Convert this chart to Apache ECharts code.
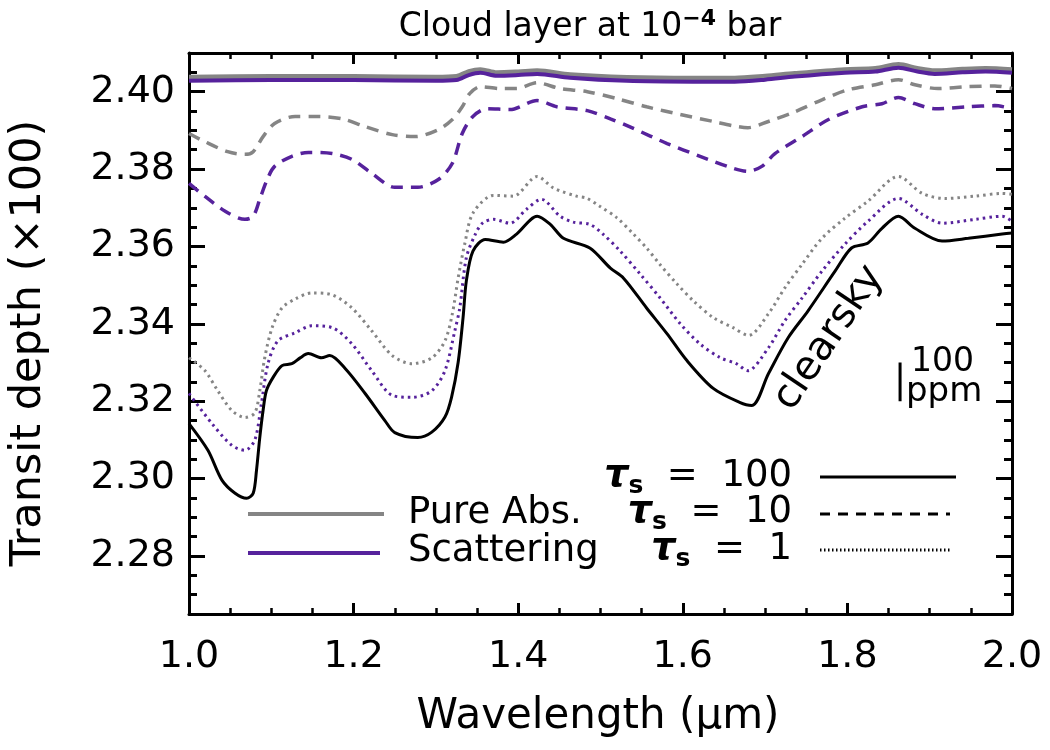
<!DOCTYPE html>
<html><head><meta charset="utf-8">
<script src="https://cdn.jsdelivr.net/npm/echarts@6/dist/echarts.min.js"></script>
<style>html,body{margin:0;padding:0;background:#fff}#c{width:1050px;height:750px}</style>
</head><body><div id="c"></div>
<script>
// ---- tick labels ----
const xTickLabels = [1.0, 1.2, 1.4, 1.6, 1.8, 2.0];
const yMajorTicks = [2.28, 2.30, 2.32, 2.34, 2.36, 2.38, 2.40];
const yMinorTicks = [2.265, 2.27, 2.275, 2.285, 2.29, 2.295, 2.305, 2.31, 2.315, 2.325, 2.33, 2.335,
  2.345, 2.35, 2.355, 2.365, 2.37, 2.375, 2.385, 2.39, 2.395, 2.405, 2.41];

// ---- series: [wavelength (um), transit depth (x100)] ----
const pureAbs100 = [[1.000,2.4037],[1.100,2.4039],[1.200,2.4039],[1.300,2.4037],[1.325,2.4039],[1.340,2.4052],[1.354,2.4057],[1.374,2.4049],[1.400,2.4051],[1.423,2.4054],[1.463,2.4044],[1.532,2.4037],[1.612,2.4035],[1.663,2.4035],[1.700,2.4040],[1.736,2.4047],[1.797,2.4057],[1.834,2.4060],[1.862,2.4070],[1.885,2.4060],[1.906,2.4054],[1.940,2.4058],[1.968,2.4060],[2.000,2.4057]];
const scatter100 = [[1.000,2.4028],[1.100,2.4030],[1.200,2.4030],[1.300,2.4028],[1.325,2.4030],[1.340,2.4043],[1.354,2.4049],[1.374,2.4041],[1.400,2.4043],[1.423,2.4046],[1.463,2.4036],[1.532,2.4028],[1.612,2.4026],[1.663,2.4026],[1.700,2.4031],[1.736,2.4039],[1.797,2.4049],[1.834,2.4052],[1.862,2.4062],[1.885,2.4052],[1.906,2.4046],[1.940,2.4050],[1.968,2.4052],[2.000,2.4049]];
const pureAbs10 = [[1.000,2.3892],[1.019,2.3871],[1.047,2.3845],[1.068,2.3838],[1.078,2.3845],[1.090,2.3884],[1.104,2.3918],[1.129,2.3936],[1.157,2.3936],[1.186,2.3930],[1.214,2.3910],[1.247,2.3889],[1.275,2.3884],[1.303,2.3902],[1.320,2.3928],[1.332,2.3961],[1.341,2.3995],[1.354,2.4013],[1.378,2.4008],[1.398,2.4008],[1.423,2.4023],[1.451,2.4008],[1.484,2.4000],[1.520,2.3982],[1.556,2.3961],[1.597,2.3941],[1.637,2.3923],[1.661,2.3912],[1.679,2.3907],[1.704,2.3923],[1.736,2.3948],[1.769,2.3979],[1.801,2.4005],[1.834,2.4018],[1.862,2.4031],[1.882,2.4018],[1.910,2.4008],[1.947,2.4013],[1.979,2.4015],[2.000,2.4008]];
const scatter10 = [[1.000,2.3763],[1.019,2.3730],[1.044,2.3691],[1.068,2.3670],[1.078,2.3678],[1.086,2.3722],[1.095,2.3773],[1.104,2.3807],[1.125,2.3833],[1.145,2.3843],[1.174,2.3840],[1.198,2.3825],[1.222,2.3789],[1.250,2.3753],[1.278,2.3753],[1.303,2.3773],[1.320,2.3815],[1.332,2.3892],[1.345,2.3936],[1.362,2.3956],[1.390,2.3954],[1.423,2.3977],[1.447,2.3961],[1.484,2.3951],[1.512,2.3930],[1.540,2.3905],[1.581,2.3866],[1.621,2.3833],[1.661,2.3802],[1.679,2.3794],[1.696,2.3807],[1.712,2.3840],[1.745,2.3884],[1.777,2.3928],[1.818,2.3961],[1.842,2.3969],[1.862,2.3985],[1.882,2.3969],[1.906,2.3956],[1.947,2.3961],[1.979,2.3964],[2.000,2.3956]];
const pureAbs1 = [[1.000,2.3312],[1.019,2.3280],[1.035,2.3227],[1.052,2.3176],[1.068,2.3158],[1.080,2.3170],[1.086,2.3227],[1.092,2.3312],[1.101,2.3390],[1.113,2.3441],[1.129,2.3464],[1.149,2.3480],[1.174,2.3475],[1.198,2.3441],[1.222,2.3382],[1.247,2.3318],[1.271,2.3297],[1.295,2.3312],[1.311,2.3356],[1.320,2.3426],[1.327,2.3518],[1.335,2.3606],[1.345,2.3686],[1.370,2.3732],[1.394,2.3730],[1.423,2.3781],[1.443,2.3751],[1.471,2.3730],[1.483,2.3725],[1.499,2.3704],[1.520,2.3674],[1.540,2.3632],[1.556,2.3596],[1.572,2.3554],[1.593,2.3503],[1.613,2.3459],[1.637,2.3416],[1.661,2.3390],[1.680,2.3370],[1.704,2.3426],[1.724,2.3493],[1.745,2.3554],[1.769,2.3621],[1.797,2.3673],[1.825,2.3717],[1.862,2.3781],[1.891,2.3737],[1.919,2.3724],[1.955,2.3730],[1.988,2.3737],[2.000,2.3735]];
const scatter1 = [[1.000,2.3220],[1.028,2.3142],[1.052,2.3086],[1.068,2.3073],[1.080,2.3100],[1.088,2.3194],[1.096,2.3297],[1.108,2.3356],[1.129,2.3377],[1.149,2.3395],[1.174,2.3390],[1.198,2.3348],[1.222,2.3279],[1.247,2.3215],[1.271,2.3210],[1.295,2.3227],[1.311,2.3279],[1.323,2.3382],[1.329,2.3441],[1.337,2.3571],[1.348,2.3632],[1.357,2.3661],[1.370,2.3670],[1.390,2.3660],[1.410,2.3696],[1.428,2.3722],[1.451,2.3678],[1.467,2.3663],[1.487,2.3657],[1.503,2.3632],[1.524,2.3588],[1.548,2.3529],[1.572,2.3468],[1.597,2.3400],[1.621,2.3348],[1.645,2.3313],[1.665,2.3297],[1.679,2.3279],[1.704,2.3338],[1.724,2.3408],[1.745,2.3467],[1.769,2.3536],[1.797,2.3606],[1.825,2.3665],[1.862,2.3724],[1.891,2.3683],[1.915,2.3660],[1.955,2.3670],[1.988,2.3678],[2.000,2.3665]];
const clearsky = [[1.000,2.3142],[1.023,2.3073],[1.040,2.2996],[1.056,2.2962],[1.070,2.2949],[1.078,2.2962],[1.082,2.3021],[1.086,2.3106],[1.090,2.3176],[1.094,2.3227],[1.102,2.3261],[1.113,2.3292],[1.125,2.3297],[1.135,2.3312],[1.145,2.3323],[1.161,2.3312],[1.171,2.3318],[1.190,2.3284],[1.214,2.3220],[1.238,2.3150],[1.250,2.3119],[1.278,2.3106],[1.295,2.3120],[1.311,2.3159],[1.319,2.3210],[1.327,2.3300],[1.333,2.3416],[1.337,2.3511],[1.345,2.3588],[1.360,2.3618],[1.382,2.3611],[1.398,2.3632],[1.423,2.3678],[1.439,2.3657],[1.455,2.3621],[1.487,2.3596],[1.512,2.3544],[1.528,2.3518],[1.556,2.3441],[1.581,2.3374],[1.605,2.3305],[1.637,2.3233],[1.669,2.3197],[1.684,2.3189],[1.704,2.3271],[1.728,2.3364],[1.752,2.3433],[1.785,2.3536],[1.805,2.3596],[1.825,2.3609],[1.842,2.3647],[1.862,2.3678],[1.882,2.3647],[1.915,2.3614],[1.947,2.3621],[1.988,2.3632],[2.000,2.3635]];
const scaleBar100ppm = [[1.864,2.320],[1.864,2.330]];

const GRAY = '#858585', PURPLE = '#56229c', BLACK = '#000';
const FONT = 'DejaVu Sans';

const chart = echarts.init(document.getElementById('c'), null, {renderer:'canvas'});

function ln(data, color, width, type, z) {
  return {type:'line', data, showSymbol:false, smooth:0.3, silent:true,
    lineStyle:{color, width, type, cap:'butt'}, z, animation:false};
}

const axisLine = {show:true, lineStyle:{color:'#000', width:3}};
function xAx(pos, labels) {
  return {type:'value', position:pos, min:1.0, max:2.0, interval:0.2,
    axisLine, splitLine:{show:false},
    axisTick:{show:true, inside:true, length:11, lineStyle:{color:'#000', width:3}},
    minorTick:{show:true, splitNumber:4, length:6, lineStyle:{color:'#000', width:2.5}},
    axisLabel:{show:labels, fontSize:38, color:'#000', fontFamily:FONT, margin:24,
      formatter:v=>v.toFixed(1)}};
}
function yAx(pos, major, labels, line) {
  return {type:'value', position:pos, min:2.265, max:2.41,
    axisLine: line ? axisLine : {show:false}, splitLine:{show:false},
    axisTick:{show:true, inside:true, length: major?16:8, customValues: major?yMajorTicks:yMinorTicks,
      lineStyle:{color:'#000', width:3}},
    axisLabel:{show:labels, customValues:yMajorTicks, fontSize:38, color:'#000', fontFamily:FONT, margin:14,
      formatter:v=>v.toFixed(2)}};
}

const tauRich = {
  t:{fontSize:38, fontWeight:'bold', fontStyle:'italic', fontFamily:FONT, fill:'#000', color:'#000'},
  s:{fontSize:25, fontWeight:'bold', fontFamily:FONT, verticalAlign:'bottom', padding:[20,0,0,0], fill:'#000', color:'#000'},
  n:{fontSize:37, fontFamily:FONT, fill:'#000', color:'#000'}
};

chart.setOption({
  animation:false,
  backgroundColor:'#fff',
  title:{text:'Cloud layer at 10{sup|−4} bar', left:585, top:3, textAlign:'center',
    textStyle:{fontSize:33, fontWeight:'normal', color:'#000', fontFamily:FONT,
      rich:{sup:{fontSize:22, fontWeight:'bold', verticalAlign:'top', color:'#000', fontFamily:FONT, padding:[0,0,16,0]}}}},
  grid:{left:189, top:53, width:823, height:561},
  xAxis:[xAx('bottom', true), xAx('top', false)],
  yAxis:[yAx('left', true, true, true), yAx('left', false, false, false),
         yAx('right', true, false, true), yAx('right', false, false, false)],
  series:[
    ln(pureAbs1, GRAY, 3, [2.5,4], 2),
    ln(scatter1, PURPLE, 3, [2.5,4], 3),
    ln(pureAbs10, GRAY, 3.5, [12,8], 4),
    ln(scatter10, PURPLE, 3.5, [12,8], 5),
    ln(pureAbs100, GRAY, 5, 'solid', 6),
    ln(scatter100, PURPLE, 4, 'solid', 7),
    ln(clearsky, BLACK, 3, 'solid', 8),
    {type:'line', data:scaleBar100ppm, showSymbol:false, silent:true, lineStyle:{color:'#000', width:3}, z:9}
  ],
  graphic:[
    {type:'text', x:29, y:343, rotation:Math.PI/2, style:{text:'Transit depth (×100)', font:'43px "DejaVu Sans"', fill:'#000', align:'center', verticalAlign:'middle'}},
    {type:'text', x:598, y:717, style:{text:'Wavelength (μm)', font:'42px "DejaVu Sans"', fill:'#000', align:'center', verticalAlign:'middle'}},
    {type:'text', x:829, y:338, rotation:56*Math.PI/180, style:{text:'clearsky', font:'40px "DejaVu Sans"', fill:'#000', align:'center', verticalAlign:'middle'}},
    {type:'text', x:911, y:362, style:{text:'100', font:'33px "DejaVu Sans"', fill:'#000', align:'left', verticalAlign:'middle'}},
    {type:'text', x:906, y:392, style:{text:'ppm', font:'34px "DejaVu Sans"', fill:'#000', align:'left', verticalAlign:'middle'}},
    // color legend
    {type:'line', shape:{x1:248, y1:514, x2:384, y2:514}, style:{stroke:GRAY, lineWidth:4}},
    {type:'line', shape:{x1:248, y1:553, x2:380, y2:553}, style:{stroke:PURPLE, lineWidth:4}},
    {type:'text', x:408, y:513, style:{text:'Pure Abs.', font:'37px "DejaVu Sans"', fill:'#000', align:'left', verticalAlign:'middle'}},
    {type:'text', x:408, y:551, style:{text:'Scattering', font:'37px "DejaVu Sans"', fill:'#000', align:'left', verticalAlign:'middle'}},
    // line-style legend
    {type:'text', x:792, y:476, style:{text:'{t|τ}{s|s}{n|  =  100}', rich:tauRich, align:'right', verticalAlign:'middle'}},
    {type:'text', x:792, y:512, style:{text:'{t|τ}{s|s}{n|  =  10}', rich:tauRich, align:'right', verticalAlign:'middle'}},
    {type:'text', x:792, y:549, style:{text:'{t|τ}{s|s}{n|  =  1}', rich:tauRich, align:'right', verticalAlign:'middle'}},
    {type:'line', shape:{x1:820, y1:477, x2:956, y2:477}, style:{stroke:'#000', lineWidth:3}},
    {type:'line', shape:{x1:820, y1:514, x2:950, y2:514}, style:{stroke:'#000', lineWidth:3, lineDash:[10,8]}},
    {type:'line', shape:{x1:820, y1:550, x2:952, y2:550}, style:{stroke:'#000', lineWidth:3, lineDash:[1.5,2.5]}}
  ]
});
</script></body></html>
